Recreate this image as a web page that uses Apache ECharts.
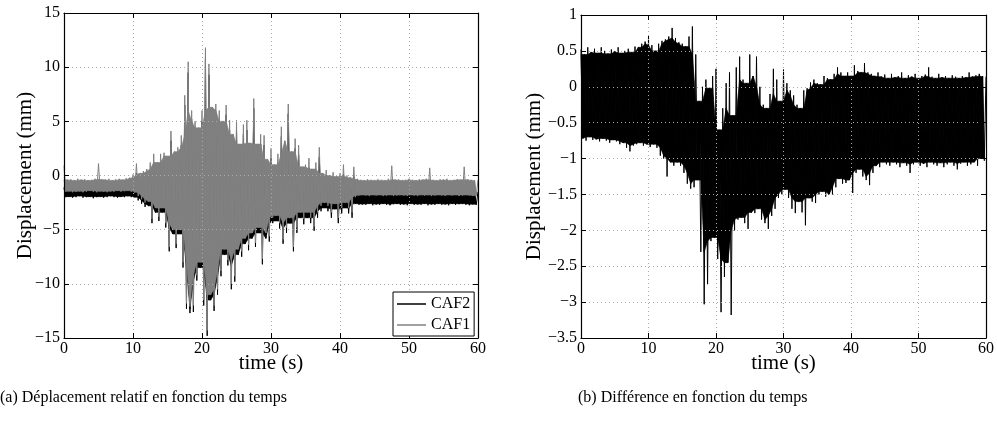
<!DOCTYPE html>
<html>
<head>
<meta charset="utf-8">
<script src="https://cdn.jsdelivr.net/npm/echarts@6/dist/echarts.min.js"></script>
<style>html,body{margin:0;padding:0;background:#fff}#c{width:997px;height:425px}</style>
</head>
<body>
<div id="c"></div>
<script>
// ---- data; envelopes per 0.5 s bin ----
const STEP = 0.5; // seconds per bin
const xTicks = [0, 10, 20, 30, 40, 50, 60];
const leftYTicks = [-15, -10, -5, 0, 5, 10, 15];
const rightYTicks = [-3.5, -3, -2.5, -2, -1.5, -1, -0.5, 0, 0.5, 1];
const legendNames = ['CAF2', 'CAF1'];
const captionA = '(a) Déplacement relatif en fonction du temps';
const captionB = '(b) Différence en fonction du temps';

// CAF1 (gray) upper values at t = 0, 0.5, ... 60
const caf1Hi = [0.9,-0.4,-0.35,-0.45,-0.3,-0.4,-0.35,-0.45,-0.4,-0.3,1.1,-0.35,-0.4,-0.3,-0.45,-0.35,-0.3,-0.4,-0.25,-0.2,
 0.1,1.1,0.2,0.4,0.6,1.2,2.0,1.2,2.0,2.1,1.8,4.1,2.2,2.6,3.7,7.4,10.5,6.0,5.0,4.4,
 6.0,11.8,10.3,6.3,6.6,6.0,5.0,6.5,5.1,3.8,5.1,2.9,4.7,5.1,3.0,7.1,2.9,3.8,3.7,1.5,
 2.5,1.0,2.0,4.5,3.2,6.6,2.2,3.4,2.8,0.8,1.0,1.6,0.6,1.2,2.6,0.2,0.5,0.0,0.3,-0.1,
 0.2,1.0,0.0,-0.2,0.8,-0.3,-0.4,-0.45,-0.35,-0.4,-0.45,-0.35,-0.4,-0.45,-0.3,0.9,-0.4,-0.35,-0.45,-0.4,
 -0.3,-0.4,-0.45,-0.35,-0.4,-0.3,0.7,-0.4,-0.45,-0.35,-0.4,-0.3,-0.45,-0.4,-0.35,-0.4,0.8,-0.35,-0.4,-0.45,-0.4];
// CAF1 (gray) lower values at t = 0.25, 0.75, ... 59.75
const caf1Lo = [-1.5,-1.45,-1.55,-1.5,-1.45,-1.55,-1.5,-1.4,-1.5,-1.55,-1.45,-1.5,-1.55,-1.45,-1.5,-1.4,-1.5,-1.45,-1.4,-1.5,
 -1.6,-1.9,-2.2,-2.5,-2.4,-4.0,-3.0,-3.8,-3.0,-4.4,-6.6,-5.0,-6.3,-5.0,-8.0,-11.8,-12.1,-12.0,-9.2,-8.0,
 -11.5,-14.3,-11.0,-12.0,-10.5,-8.8,-6.8,-7.8,-10.0,-9.3,-6.8,-7.0,-5.8,-6.4,-5.3,-6.2,-4.8,-7.7,-5.3,-5.6,
 -3.9,-3.7,-4.4,-5.9,-4.8,-3.9,-6.6,-4.8,-3.4,-4.0,-3.4,-3.9,-4.7,-3.4,-2.8,-2.5,-2.8,-3.4,-2.6,-3.9,
 -3.0,-2.5,-3.0,-3.4,-2.0,-1.85,-1.8,-1.85,-1.9,-1.8,-1.85,-1.8,-1.9,-1.85,-1.8,-1.9,-1.85,-1.8,-1.85,-1.9,
 -1.8,-1.85,-1.9,-1.8,-1.85,-1.8,-1.9,-1.85,-1.8,-1.85,-1.9,-1.8,-1.85,-1.8,-1.9,-1.85,-1.8,-1.85,-1.9,-1.85];
// CAF2 (black) upper values at t = 0 ... 60
const caf2Hi = [-1.1,-1.2,-1.15,-1.2,-1.1,-1.2,-1.15,-1.2,-1.1,-1.15,-1.2,-1.1,-1.2,-1.15,-1.1,-1.2,-1.15,-1.2,-1.1,-1.0,
 -0.8,0.2,-0.5,-0.4,-0.2,0.4,1.2,0.4,1.2,1.3,1.0,3.2,1.4,1.8,2.8,6.5,9.5,5.2,4.2,3.5,
 5.0,10.8,9.3,5.4,5.7,5.1,4.1,5.6,4.2,2.9,4.2,2.0,3.8,4.2,2.1,6.2,2.0,2.9,2.8,0.6,
 1.6,0.1,1.1,3.6,2.3,5.7,1.3,2.5,1.9,-0.1,0.1,0.7,-0.3,0.3,1.7,-0.7,-0.4,-0.9,-0.6,-1.0,
 -0.7,0.1,-0.9,-1.1,-0.1,-1.3,-1.5,-1.55,-1.5,-1.6,-1.5,-1.55,-1.6,-1.5,-1.55,-1.5,-1.6,-1.55,-1.5,-1.6,
 -1.55,-1.5,-1.6,-1.55,-1.5,-1.6,-1.5,-1.55,-1.6,-1.5,-1.55,-1.6,-1.5,-1.55,-1.5,-1.6,-1.55,-1.5,-1.6,-1.55,-1.5];
// CAF2 (black) lower values at t = 0.25 ... 59.75
const caf2Lo = [-2.0,-1.95,-2.05,-2.0,-1.9,-2.05,-2.0,-1.95,-2.1,-2.0,-1.95,-2.05,-2.0,-1.9,-2.0,-2.05,-1.95,-2.0,-1.9,-2.0,
 -2.0,-2.3,-2.6,-2.9,-2.8,-4.4,-3.4,-4.2,-3.4,-4.8,-7.0,-5.4,-6.7,-5.4,-8.5,-12.3,-12.7,-12.6,-9.7,-8.5,
 -12.0,-14.8,-11.5,-12.5,-11.0,-9.3,-7.3,-8.3,-10.5,-9.8,-7.3,-7.5,-6.3,-6.9,-5.8,-6.6,-5.3,-8.2,-5.8,-6.1,
 -4.4,-4.2,-4.9,-6.3,-5.3,-4.4,-7.0,-5.3,-3.9,-4.5,-3.9,-4.4,-5.1,-3.9,-3.3,-3.0,-3.3,-3.9,-3.1,-4.4,
 -3.5,-3.0,-3.5,-3.9,-2.6,-2.7,-2.65,-2.7,-2.6,-2.75,-2.65,-2.7,-2.6,-2.7,-2.75,-2.65,-2.6,-2.7,-2.65,-2.75,
 -2.6,-2.7,-2.65,-2.7,-2.6,-2.75,-2.65,-2.7,-2.6,-2.7,-2.65,-2.75,-2.6,-2.7,-2.65,-2.6,-2.7,-2.75,-2.65,-2.7];
// Difference upper values at t = 0 ... 60
const diffHi = [0.52,0.45,0.55,0.48,0.53,0.47,0.55,0.5,0.46,0.52,0.49,0.55,0.47,0.5,0.53,0.48,0.56,0.55,0.6,0.63,
 0.71,0.58,0.5,0.6,0.64,0.66,0.7,0.82,0.68,0.62,0.6,0.56,0.7,0.84,0.45,-0.2,0.0,0.1,-0.02,0.15,
 0.25,-0.6,-0.3,0.05,0.2,-0.4,0.27,0.42,0.1,0.05,0.45,0.15,0.42,0.0,-0.25,-0.3,-0.1,0.25,0.1,-0.2,
 0.24,0.05,-0.05,-0.12,-0.25,-0.3,-0.05,-0.02,0.06,0.1,0.05,0.03,0.15,0.12,0.1,0.18,0.27,0.2,0.15,0.2,
 0.15,0.3,0.22,0.2,0.33,0.2,0.18,0.15,0.2,0.14,0.17,0.12,0.18,0.13,0.15,0.2,0.12,0.16,0.14,0.18,
 0.12,0.15,0.17,0.27,0.14,0.12,0.18,0.13,0.15,0.12,0.16,0.14,0.12,0.15,0.13,0.2,0.14,0.16,0.18,0.15,0.14];
// Difference lower values at t = 0.25 ... 59.75
const diffLo = [-0.72,-0.75,-0.7,-0.74,-0.73,-0.76,-0.72,-0.75,-0.78,-0.74,-0.76,-0.8,-0.78,-0.85,-0.9,-0.82,-0.8,-0.78,-0.82,-0.8,
 -0.84,-0.8,-0.85,-0.96,-1.0,-1.25,-1.05,-1.1,-1.05,-1.1,-1.2,-1.35,-1.42,-1.4,-1.3,-2.3,-3.03,-2.75,-2.15,-2.1,
 -2.4,-3.14,-2.65,-2.45,-3.18,-2.0,-1.85,-1.82,-1.9,-1.98,-1.75,-1.76,-1.7,-1.85,-1.9,-1.98,-1.8,-1.7,-1.55,-1.5,
 -1.43,-1.55,-1.7,-1.76,-1.6,-1.75,-1.93,-1.55,-1.6,-1.62,-1.5,-1.46,-1.53,-1.5,-1.5,-1.4,-1.28,-1.35,-1.34,-1.3,
 -1.48,-1.2,-1.15,-1.25,-1.3,-1.37,-1.2,-1.1,-1.12,-1.05,-1.08,-1.1,-1.05,-1.08,-1.12,-1.06,-1.1,-1.2,-1.08,-1.05,
 -1.1,-1.07,-1.12,-1.05,-1.08,-1.1,-1.06,-1.12,-1.08,-1.05,-1.1,-1.15,-1.07,-1.05,-1.1,-1.08,-1.05,-1.1,-1.0,-1.03];

// ---- build ----
function zig(hi, lo) {
  const out = [];
  for (let i = 0; i < lo.length; i++) {
    out.push([i * STEP, hi[i]]);
    out.push([i * STEP + STEP / 2, lo[i]]);
  }
  out.push([lo.length * STEP, hi[lo.length]]);
  return out;
}
// dense core of the trace: between the lowest nearby peak and the highest nearby trough
function band(name, hi, lo, color, xi, yi, z) {
  const n = lo.length;
  const cHi = [], cLo = [];
  for (let i = 0; i < n; i++) {
    const a = Math.max(i - 1, 0), b = Math.min(i + 1, n - 1);
    cHi.push(Math.min(hi[a], hi[i], hi[i + 1]));
    cLo.push(Math.max(lo[a], lo[i], lo[b]));
  }
  const data = [];
  for (let i = 0; i < n - 1; i++) {
    data.push([i * STEP, Math.max(cHi[i], cLo[i]), Math.max(cHi[i + 1], cLo[i + 1]), cLo[i], cLo[i + 1]]);
  }
  return {
    type: 'custom', name: name, xAxisIndex: xi, yAxisIndex: yi, z: z, silent: true, data: data,
    encode: { x: 0, y: [1, 2, 3, 4] },
    renderItem: function (params, api) {
      const t = api.value(0);
      const pts = [
        api.coord([t, api.value(1)]),
        api.coord([t + STEP, api.value(2)]),
        api.coord([t + STEP * 1.5, api.value(4)]),
        api.coord([t + STEP * 0.5, api.value(3)])
      ];
      return { type: 'polygon', shape: { points: pts }, style: { fill: color, stroke: color, lineWidth: 0.6 } };
    }
  };
}
const SERIF = '"Liberation Serif", "Times New Roman", serif';
const fmt = v => (v < 0 ? '\u2212' + Math.abs(v) : String(v));

function axisCommon(extra) {
  return Object.assign({
    type: 'value',
    nameMoveOverlap: false,
    axisLine: { show: true, onZero: false, lineStyle: { color: '#000', width: 1.2 } },
    axisTick: { show: true, inside: true, length: 5, lineStyle: { color: '#000', width: 1 } },
    splitLine: { show: false },
    axisLabel: { show: false }
  }, extra);
}
function xAxes(grid) {
  return [
    axisCommon({
      gridIndex: grid, position: 'bottom', min: xTicks[0], max: xTicks[xTicks.length - 1], interval: 10, z: 5,
      name: 'time (s)', nameLocation: 'middle', nameGap: 15,
      nameTextStyle: { fontFamily: SERIF, fontSize: 21, color: '#000' },
      axisLabel: { show: true, fontFamily: SERIF, fontSize: 16, color: '#000', margin: 3, formatter: fmt },
      splitLine: { show: true, lineStyle: { color: '#aaa', type: [1, 3], width: 1 } }
    }),
    axisCommon({ gridIndex: grid, position: 'top', min: xTicks[0], max: xTicks[xTicks.length - 1], interval: 10, z: 5 })
  ];
}
function yAxes(grid, ticks, gap) {
  const mn = ticks[0], mx = ticks[ticks.length - 1], iv = ticks[1] - ticks[0];
  return [
    axisCommon({
      gridIndex: grid, position: 'left', min: mn, max: mx, interval: iv, z: 5,
      name: 'Displacement (mm)', nameLocation: 'middle', nameGap: gap,
      nameTextStyle: { fontFamily: SERIF, fontSize: 21, color: '#000' },
      axisLabel: { show: true, fontFamily: SERIF, fontSize: 16, color: '#000', margin: 4, formatter: fmt },
      splitLine: { show: true, lineStyle: { color: '#aaa', type: [1, 3], width: 1 } }
    }),
    axisCommon({ gridIndex: grid, position: 'right', min: mn, max: mx, interval: iv, z: 5 })
  ];
}

const chart = echarts.init(document.getElementById('c'), null, { renderer: 'canvas' });
chart.setOption({
  animation: false,
  backgroundColor: '#fff',
  grid: [
    { left: 64, top: 13, width: 414, height: 325 },
    { left: 581, top: 15, width: 408, height: 323 }
  ],
  xAxis: xAxes(0).concat(xAxes(1)),
  yAxis: yAxes(0, leftYTicks, 28).concat(yAxes(1, rightYTicks, 36)),
  legend: {
    data: legendNames, z: 10,
    orient: 'vertical', left: 393, top: 292,
    icon: 'rect', itemWidth: 29, itemHeight: 1.5, itemGap: 5,
    padding: [4, 4, 3, 4],
    borderColor: '#000', borderWidth: 1, backgroundColor: '#fff', borderRadius: 0,
    textStyle: { fontFamily: SERIF, fontSize: 16, color: '#000' }
  },
  series: [
    band('CAF2 envelope', caf2Hi, caf2Lo, '#000', 0, 0, 1),
    { name: 'CAF2', type: 'line', xAxisIndex: 0, yAxisIndex: 0, data: zig(caf2Hi, caf2Lo),
      showSymbol: false, symbol: 'none', color: '#000', lineStyle: { width: 1, color: '#000' }, z: 2 },
    band('CAF1 envelope', caf1Hi, caf1Lo, '#808080', 0, 0, 3),
    { name: 'CAF1', type: 'line', xAxisIndex: 0, yAxisIndex: 0, data: zig(caf1Hi, caf1Lo),
      showSymbol: false, symbol: 'none', color: '#808080', lineStyle: { width: 1, color: '#808080' }, z: 4 },
    band('Différence envelope', diffHi, diffLo, '#000', 2, 2, 1),
    { name: 'Différence', type: 'line', xAxisIndex: 2, yAxisIndex: 2, data: zig(diffHi, diffLo),
      showSymbol: false, symbol: 'none', color: '#000', lineStyle: { width: 1, color: '#000' }, z: 2 }
  ],
  graphic: [
    { type: 'text', left: 0, top: 390, style: { text: captionA, font: '16px "Liberation Serif"', fill: '#000' } },
    { type: 'text', left: 578, top: 390, style: { text: captionB, font: '16px "Liberation Serif"', fill: '#000' } }
  ]
});
</script>
</body>
</html>
